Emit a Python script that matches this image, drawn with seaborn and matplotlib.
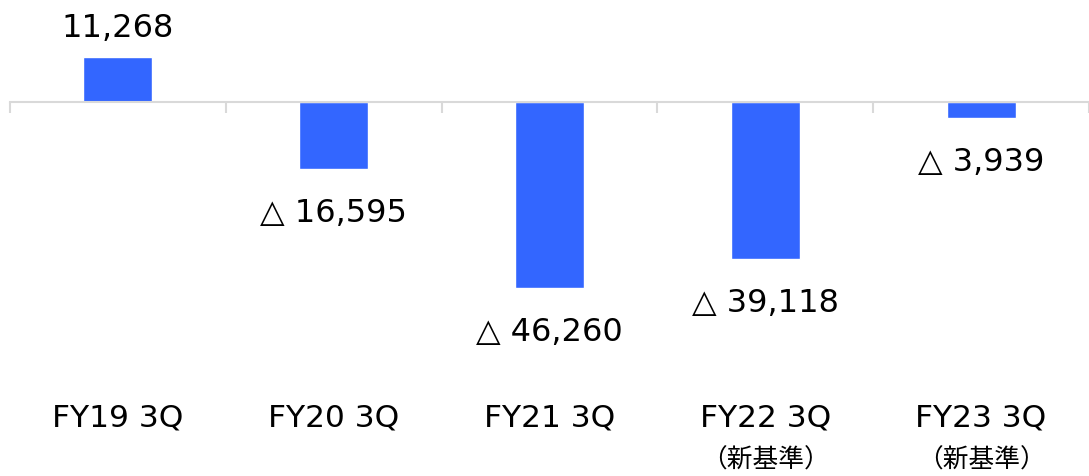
import matplotlib
matplotlib.use("Agg")
import matplotlib.pyplot as plt
import matplotlib.transforms as mtransforms
import pandas as pd
import seaborn as sns

# data
categories = ["FY19 3Q", "FY20 3Q", "FY21 3Q", "FY22 3Q", "FY23 3Q"]
sub_labels = ["", "", "", "（新基準）", "（新基準）"]
values = [11268, -16595, -46260, -39118, -3939]

sns.set_theme(style="white")
plt.rcParams["font.family"] = ["DejaVu Sans", "Noto Sans CJK JP"]

df = pd.DataFrame({"cat": categories, "val": values})

fig = plt.figure(figsize=(10.89, 4.76), dpi=100)
ax = fig.add_axes([10 / 1089, 0, 1 - 10 / 1089, 1])

sns.barplot(data=df, x="cat", y="val", color="#3366FF", width=0.32,
            saturation=1, ax=ax)

# zero line sits 102 px from the top, 46,260 spans about 186 px
px_per_unit = 186 / 46260
ax.set_ylim(-(476 - 102) / px_per_unit, 102 / px_per_unit)
ax.set_xlim(-0.5, len(categories) - 0.5)

for s in ["top", "right", "left"]:
    ax.spines[s].set_visible(False)
ax.spines["bottom"].set_position(("data", 0))
ax.spines["bottom"].set_color("#d9d9d9")
ax.spines["bottom"].set_linewidth(1.5)
ax.set_xticks([i - 0.5 for i in range(len(categories) + 1)])
ax.set_xticklabels([])
ax.tick_params(axis="x", bottom=True, direction="out", length=8,
               width=1.5, color="#d9d9d9")
ax.set_yticks([])
ax.set_xlabel("")
ax.set_ylabel("")

# value labels
for i, v in enumerate(values):
    if v >= 0:
        txt = f"{v:,}"
        off = 20
    else:
        txt = f"△ {abs(v):,}"
        off = -32
    ax.annotate(txt, (i, v), xytext=(0, off), textcoords="offset points",
                ha="center", va="center", fontsize=23, color="#000000")

# category labels
trans = mtransforms.blended_transform_factory(ax.transData, ax.transAxes)
for i, (c, s) in enumerate(zip(categories, sub_labels)):
    ax.text(i, 1 - 418 / 476, c, transform=trans, ha="center", va="center",
            fontsize=22.5, color="#000000")
    if s:
        ax.text(i, 1 - 461 / 476, s, transform=trans, ha="center",
                va="center", fontsize=18.5, color="#000000",
                family=["Noto Sans CJK JP", "DejaVu Sans"])

fig.savefig("out.png", dpi=100)
